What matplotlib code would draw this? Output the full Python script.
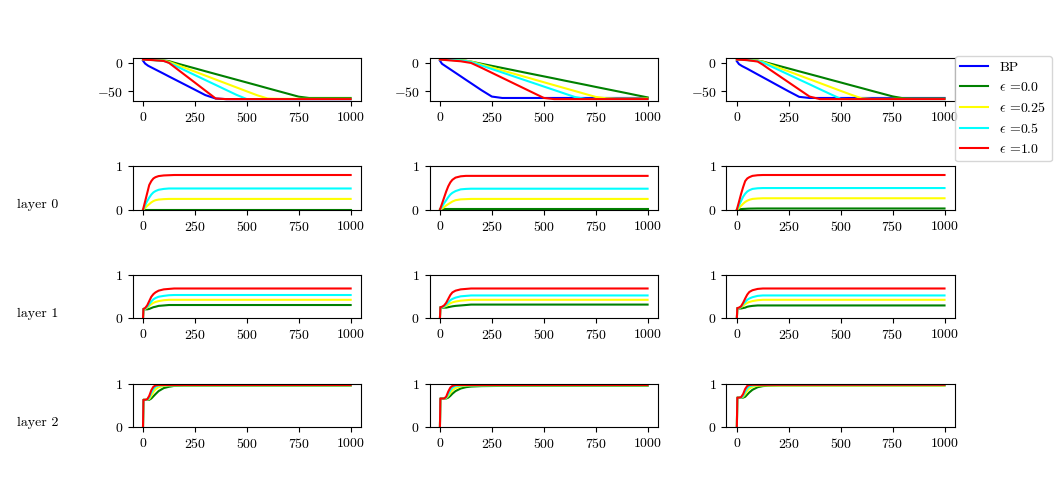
import matplotlib
matplotlib.use('Agg')
import matplotlib.pyplot as plt

plt.rcParams['font.family'] = 'serif'
plt.rcParams['font.serif'] = ['cmr10']
plt.rcParams['mathtext.fontset'] = 'cm'
plt.rcParams['axes.formatter.use_mathtext'] = True
plt.rcParams['font.size'] = 10

labels = ['BP', r'$\epsilon$ =0.0', r'$\epsilon$ =0.25', r'$\epsilon$ =0.5', r'$\epsilon$ =1.0']
colors = ['blue', 'green', 'yellow', 'cyan', 'red']
row_names = ['layer 0', 'layer 1', 'layer 2']

# top row: loss curves, one list per column
loss_steps = [0, 10, 25, 50, 100, 125, 150, 200, 250, 300, 350, 400, 450, 500,
              550, 600, 650, 700, 750, 800, 850, 900, 950, 1000]
loss_bp = [
    [4, -1, -5, -9.7, -19.1, -23.9, -28.6, -38.0, -47.4, -56.9, -63, -64, -64, -64,
     -64, -64, -64, -64, -64, -64, -64, -64, -64, -64],
    [4, -1.5, -5.2, -11.3, -23.6, -29.8, -35.9, -48.2, -59.5, -62, -62, -62, -62, -62,
     -62, -62, -62, -62, -62, -62, -62, -62, -62, -62],
    [3, -2, -5.5, -10.2, -20.3, -25.3, -30.3, -40.4, -50.4, -60, -62, -62, -62, -62,
     -62, -62, -62, -62, -62, -62, -62, -62, -62, -62],
]
loss_eps0 = [
    [6, 6, 5.8, 5.4, 4.4, 3.3, 0.5, -4.5, -9.5, -14.6, -19.6, -24.6, -29.6, -34.6,
     -39.6, -44.7, -49.7, -54.7, -59.7, -62, -62, -62, -62, -62],
    [6, 6, 5.8, 5.5, 4.6, 4.0, 2.4, -1.4, -5.1, -8.8, -12.5, -16.3, -20.0, -23.7,
     -27.4, -31.2, -34.9, -38.6, -42.4, -46.1, -49.8, -53.5, -57.3, -61],
    [6, 6, 5.8, 5.4, 4.2, 2.5, 0.0, -4.9, -9.8, -14.8, -19.7, -24.6, -29.6, -34.5,
     -39.5, -44.4, -49.4, -54.3, -59.2, -62.5, -63, -63, -63, -63],
]
loss_eps025 = [
    [6, 6, 5.7, 5.2, 4.0, 2.1, -1.4, -8.4, -15.3, -22.3, -29.3, -36.3, -43.3, -50.3,
     -57.2, -63, -63.5, -63.5, -63.5, -63.5, -63.5, -63.5, -63.5, -63.5],
    [6, 6, 5.8, 5.4, 4.6, 3.8, 2.4, -2.8, -8.0, -13.2, -18.4, -23.6, -28.8, -34.1,
     -39.3, -44.5, -49.7, -54.9, -60.1, -62.5, -63, -63, -63, -63],
    [6, 6, 5.7, 5.2, 4.0, 2.1, -1.3, -8.2, -15.0, -21.9, -28.8, -35.6, -42.5, -49.4,
     -56.2, -62.5, -63.5, -63.5, -63.5, -63.5, -63.5, -63.5, -63.5, -63.5],
]
loss_eps05 = [
    [6, 6, 5.6, 5.0, 3.5, 0.4, -4.0, -12.7, -21.5, -30.2, -38.9, -47.7, -56.4, -64,
     -64, -64, -64, -64, -64, -64, -64, -64, -64, -64],
    [6, 6, 5.7, 5.3, 4.3, 3.5, 1.6, -4.5, -10.7, -16.9, -23.1, -29.3, -35.5, -41.7,
     -47.9, -54.1, -60.3, -63.5, -64, -64, -64, -64, -64, -64],
    [6, 6, 5.6, 5.0, 3.4, 0.8, -3.5, -12.1, -20.7, -29.3, -37.8, -46.5, -55.1, -63.5,
     -64, -64, -64, -64, -64, -64, -64, -64, -64, -64],
]
loss_eps1 = [
    [6, 5.8, 5.5, 5.0, 3.5, 0.2, -6.8, -20.8, -34.8, -48.9, -62.9, -64, -64, -64,
     -64, -64, -64, -64, -64, -64, -64, -64, -64, -64],
    [6, 5.7, 5.3, 4.5, 3.0, 1.5, 0.0, -8.5, -17.4, -26.3, -35.2, -44.1, -53.0, -61.9,
     -64, -64, -64, -64, -64, -64, -64, -64, -64, -64],
    [6, 5.8, 5.5, 5.0, 2.5, -3.0, -9.5, -22.0, -34.5, -47.0, -59.5, -64, -64, -64,
     -64, -64, -64, -64, -64, -64, -64, -64, -64, -64],
]

# layer rows, one list per column
rate_steps = [0, 2, 10, 20, 30, 40, 50, 60, 75, 100, 125, 150, 200, 300, 1000]

layer0_eps0 = [
    [0.005] * 15,
    [0.01] * 15,
    [0.0, 0.002, 0.01, 0.015, 0.02, 0.022, 0.025, 0.027, 0.028, 0.03, 0.03, 0.03, 0.03, 0.03, 0.03],
]
layer0_eps025 = [
    [0.0, 0.01, 0.04, 0.09, 0.13, 0.17, 0.20, 0.22, 0.235, 0.245, 0.25, 0.25, 0.25, 0.25, 0.25],
    [0.0, 0.006, 0.03, 0.06, 0.10, 0.13, 0.16, 0.19, 0.22, 0.24, 0.245, 0.25, 0.25, 0.25, 0.25],
    [0.0, 0.01, 0.04, 0.09, 0.14, 0.18, 0.21, 0.23, 0.25, 0.26, 0.265, 0.265, 0.265, 0.265, 0.265],
]
layer0_eps05 = [
    [0.0, 0.02, 0.10, 0.20, 0.28, 0.35, 0.40, 0.43, 0.46, 0.48, 0.49, 0.49, 0.49, 0.49, 0.49],
    [0.0, 0.015, 0.07, 0.15, 0.22, 0.29, 0.35, 0.39, 0.43, 0.47, 0.48, 0.485, 0.485, 0.485, 0.485],
    [0.0, 0.02, 0.10, 0.20, 0.30, 0.37, 0.42, 0.45, 0.48, 0.495, 0.5, 0.5, 0.5, 0.5, 0.5],
]
layer0_eps1 = [
    [0.0, 0.04, 0.19, 0.38, 0.57, 0.66, 0.72, 0.75, 0.775, 0.79, 0.795, 0.8, 0.8, 0.8, 0.8],
    [0.0, 0.03, 0.14, 0.28, 0.42, 0.54, 0.63, 0.69, 0.74, 0.77, 0.78, 0.78, 0.78, 0.78, 0.78],
    [0.0, 0.04, 0.18, 0.36, 0.52, 0.66, 0.72, 0.75, 0.78, 0.795, 0.8, 0.8, 0.8, 0.8, 0.8],
]

layer1_eps0 = [
    [0.0, 0.22, 0.21, 0.21, 0.22, 0.24, 0.26, 0.27, 0.29, 0.30, 0.31, 0.31, 0.31, 0.31, 0.31],
    [0.0, 0.26, 0.25, 0.25, 0.25, 0.26, 0.27, 0.28, 0.29, 0.30, 0.31, 0.32, 0.32, 0.32, 0.32],
    [0.0, 0.24, 0.23, 0.23, 0.24, 0.25, 0.27, 0.28, 0.29, 0.30, 0.30, 0.30, 0.30, 0.30, 0.30],
]
layer1_eps025 = [
    [0.0, 0.22, 0.22, 0.25, 0.29, 0.33, 0.36, 0.38, 0.40, 0.42, 0.43, 0.43, 0.43, 0.43, 0.43],
    [0.0, 0.26, 0.26, 0.27, 0.29, 0.32, 0.35, 0.37, 0.39, 0.41, 0.42, 0.43, 0.43, 0.43, 0.43],
    [0.0, 0.24, 0.24, 0.26, 0.29, 0.33, 0.36, 0.38, 0.40, 0.42, 0.43, 0.43, 0.43, 0.43, 0.43],
]
layer1_eps05 = [
    [0.0, 0.22, 0.23, 0.27, 0.33, 0.39, 0.44, 0.47, 0.50, 0.52, 0.535, 0.54, 0.54, 0.54, 0.54],
    [0.0, 0.26, 0.26, 0.28, 0.32, 0.37, 0.42, 0.45, 0.48, 0.51, 0.52, 0.53, 0.53, 0.53, 0.53],
    [0.0, 0.24, 0.24, 0.27, 0.33, 0.38, 0.43, 0.46, 0.49, 0.52, 0.53, 0.53, 0.53, 0.53, 0.53],
]
layer1_eps1 = [
    [0.0, 0.22, 0.24, 0.30, 0.40, 0.50, 0.56, 0.60, 0.64, 0.67, 0.68, 0.69, 0.69, 0.69, 0.69],
    [0.0, 0.26, 0.27, 0.30, 0.36, 0.45, 0.54, 0.60, 0.64, 0.67, 0.68, 0.69, 0.69, 0.69, 0.69],
    [0.0, 0.24, 0.25, 0.28, 0.36, 0.46, 0.55, 0.61, 0.65, 0.68, 0.69, 0.69, 0.69, 0.69, 0.69],
]

layer2_eps0 = [
    [0.0, 0.63, 0.63, 0.63, 0.63, 0.66, 0.71, 0.76, 0.83, 0.90, 0.93, 0.95, 0.955, 0.955, 0.955],
    [0.0, 0.66, 0.66, 0.66, 0.66, 0.68, 0.72, 0.77, 0.83, 0.89, 0.92, 0.935, 0.945, 0.95, 0.95],
    [0.0, 0.68, 0.68, 0.68, 0.68, 0.70, 0.75, 0.80, 0.86, 0.92, 0.945, 0.955, 0.96, 0.96, 0.96],
]
layer2_eps025 = [
    [0.0, 0.63, 0.63, 0.63, 0.65, 0.72, 0.81, 0.87, 0.92, 0.95, 0.96, 0.96, 0.96, 0.96, 0.96],
    [0.0, 0.66, 0.66, 0.66, 0.67, 0.72, 0.79, 0.85, 0.90, 0.94, 0.955, 0.96, 0.96, 0.96, 0.96],
    [0.0, 0.68, 0.68, 0.68, 0.70, 0.76, 0.84, 0.89, 0.93, 0.955, 0.96, 0.96, 0.96, 0.96, 0.96],
]
layer2_eps05 = [
    [0.0, 0.63, 0.63, 0.63, 0.68, 0.79, 0.88, 0.93, 0.96, 0.965, 0.965, 0.965, 0.965, 0.965, 0.965],
    [0.0, 0.66, 0.66, 0.66, 0.68, 0.76, 0.85, 0.91, 0.95, 0.96, 0.965, 0.965, 0.965, 0.965, 0.965],
    [0.0, 0.68, 0.68, 0.68, 0.72, 0.82, 0.90, 0.94, 0.96, 0.97, 0.97, 0.97, 0.97, 0.97, 0.97],
]
layer2_eps1 = [
    [0.0, 0.63, 0.63, 0.64, 0.72, 0.85, 0.93, 0.96, 0.97, 0.97, 0.97, 0.97, 0.97, 0.97, 0.97],
    [0.0, 0.66, 0.66, 0.66, 0.70, 0.82, 0.91, 0.95, 0.97, 0.97, 0.97, 0.97, 0.97, 0.97, 0.97],
    [0.0, 0.68, 0.68, 0.69, 0.76, 0.88, 0.95, 0.97, 0.975, 0.975, 0.975, 0.975, 0.975, 0.975, 0.975],
]


def main():
    fig, axes = plt.subplots(4, 3, figsize=(10.61, 4.8), dpi=100)
    fig.subplots_adjust(left=0.125, right=0.9, top=0.88, bottom=0.11, wspace=0.3, hspace=1.5)

    loss_series = [loss_bp, loss_eps0, loss_eps025, loss_eps05, loss_eps1]
    layer_series = [
        [layer0_eps0, layer0_eps025, layer0_eps05, layer0_eps1],
        [layer1_eps0, layer1_eps025, layer1_eps05, layer1_eps1],
        [layer2_eps0, layer2_eps025, layer2_eps05, layer2_eps1],
    ]

    for col in range(3):
        ax = axes[0][col]
        for s in range(5):
            ax.plot(loss_steps, loss_series[s][col], color=colors[s], label=labels[s])
        ax.set_xticks([0, 250, 500, 750, 1000])

        for row in range(3):
            ax = axes[row + 1][col]
            for s in range(4):
                ax.plot(rate_steps, layer_series[row][s][col], color=colors[s + 1])
            ax.set_ylim(0, 1)
            ax.set_yticks([0, 1])
            ax.set_xticks([0, 250, 500, 750, 1000])

    for row in range(3):
        y = 1 - (205 + 109 * row) / 480
        fig.text(17 / 1061, y, row_names[row], ha='left', va='center')

    axes[0][2].legend(loc='upper left', bbox_to_anchor=(1.0, 1.04), borderaxespad=0)

    plt.savefig('out.png')


if __name__ == '__main__':
    main()
